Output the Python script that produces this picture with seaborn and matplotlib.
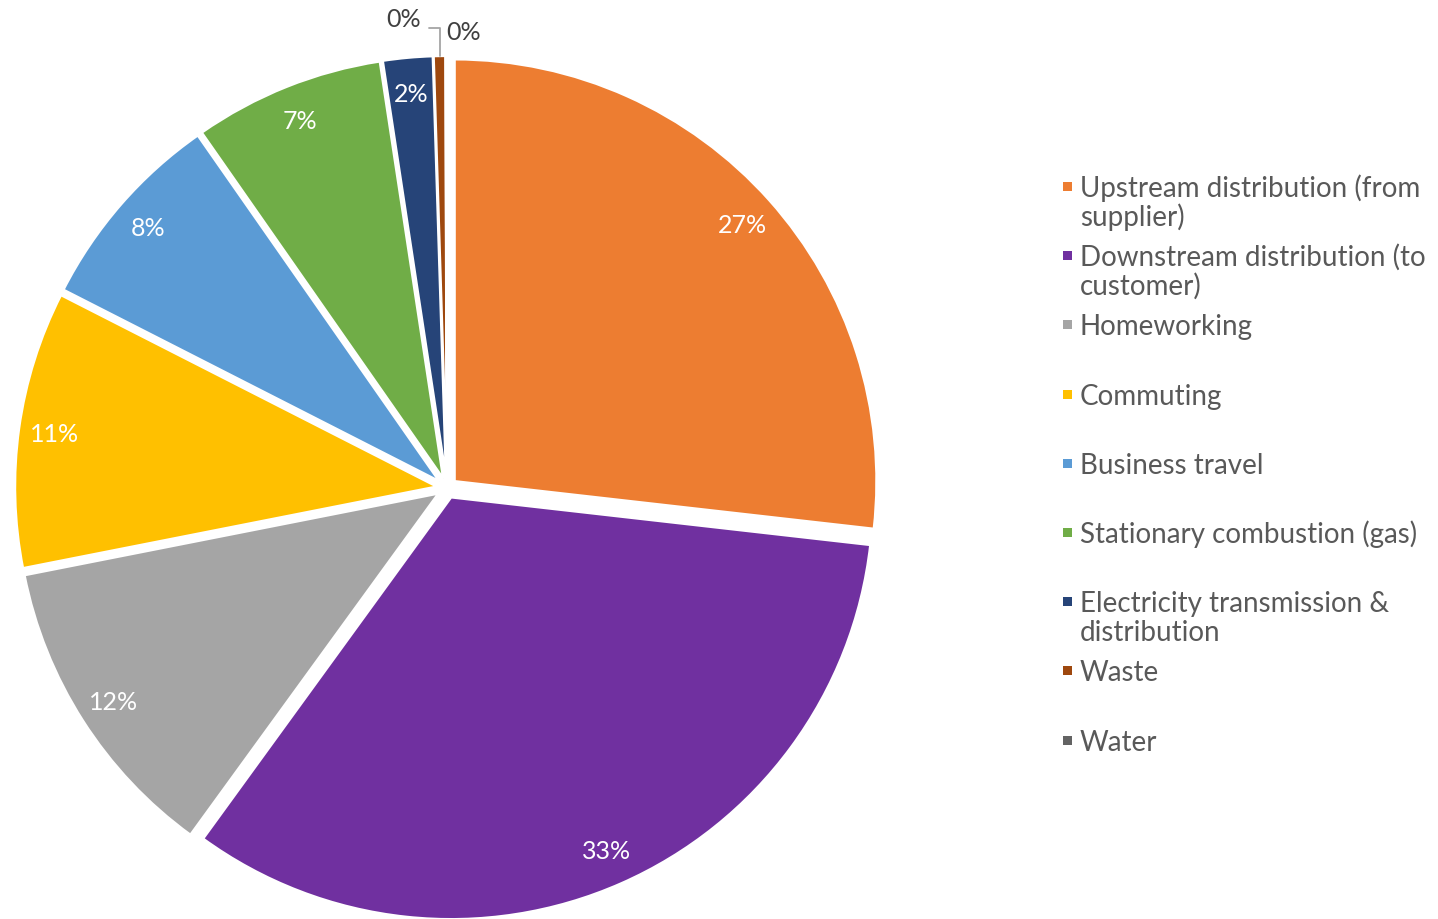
import matplotlib
matplotlib.use("Agg")
import matplotlib.pyplot as plt
from matplotlib.patches import Rectangle
import numpy as np
import seaborn as sns

categories = [
    "Upstream distribution (from\nsupplier)",
    "Downstream distribution (to\ncustomer)",
    "Homeworking",
    "Commuting",
    "Business travel",
    "Stationary combustion (gas)",
    "Electricity transmission &\ndistribution",
    "Waste",
    "Water",
]
shares = [26.8, 33.2, 11.9, 10.6, 7.8, 7.3, 1.9, 0.45, 0.05]
colors = ["#ED7D31", "#7030A0", "#A5A5A5", "#FFC000", "#5B9BD5",
          "#70AD47", "#264478", "#9E480E", "#636363"]

sns.set_theme(style="white")
plt.rcParams["font.family"] = ["Lato", "DejaVu Sans"]

W, H = 1438, 920
fig = plt.figure(figsize=(W / 100, H / 100), dpi=100)

cx, cy, R = 447, 489, 422
ax = fig.add_axes([(cx - R) / W, (H - cy - R) / H, 2 * R / W, 2 * R / H])

explode = [0.024] * len(shares)
wedges, texts, autotexts = ax.pie(
    shares,
    colors=colors,
    startangle=90,
    counterclock=False,
    explode=explode,
    autopct=lambda p: f"{p:.0f}%",
    pctdistance=0.915,
    wedgeprops=dict(edgecolor="white", linewidth=1.8, clip_on=False),
    textprops=dict(color="white", fontsize=18),
)
ax.set_xlim(-1, 1)
ax.set_ylim(-1, 1)
ax.set_aspect("equal")
ax.axis("off")

# small slices: labels outside
for idx in (7, 8):
    autotexts[idx].set_visible(False)


def wedge_top(w):
    th = np.deg2rad((w.theta1 + w.theta2) / 2)
    cxw, cyw = w.center
    return cxw + w.r * np.cos(th), cyw + w.r * np.sin(th)


x7, y7 = wedge_top(wedges[7])
ax.annotate("0%", xy=(x7, y7), xytext=(x7 - 0.045, y7 + 0.088),
            ha="right", va="center", fontsize=18, color="#404040",
            arrowprops=dict(arrowstyle="-", color="#A5A5A5", lw=1.3,
                            connectionstyle="angle,angleA=0,angleB=90,rad=0",
                            relpos=(1.0, 0.1), shrinkA=4, shrinkB=0),
            annotation_clip=False)
x8, y8 = wedge_top(wedges[8])
ax.text(x8 + 0.0, y8 + 0.057, "0%", ha="left", va="center",
        fontsize=18, color="#404040", clip_on=False)

# legend (manual, evenly spaced like the original)
y0, step, line_h = 187.5, 69.2, 29.0
for i, (lab, col) in enumerate(zip(categories, colors)):
    yc = y0 + step * i
    fig.add_artist(Rectangle((1063 / W, (H - yc - 4.5) / H), 9 / W, 9 / H,
                             transform=fig.transFigure, facecolor=col,
                             edgecolor="none"))
    for k, line in enumerate(lab.split("\n")):
        fig.text(1080 / W, (H - yc - 9.5 - line_h * k) / H, line,
                 ha="left", va="baseline", fontsize=20, color="#595959")

fig.savefig("out.png", dpi=100)
